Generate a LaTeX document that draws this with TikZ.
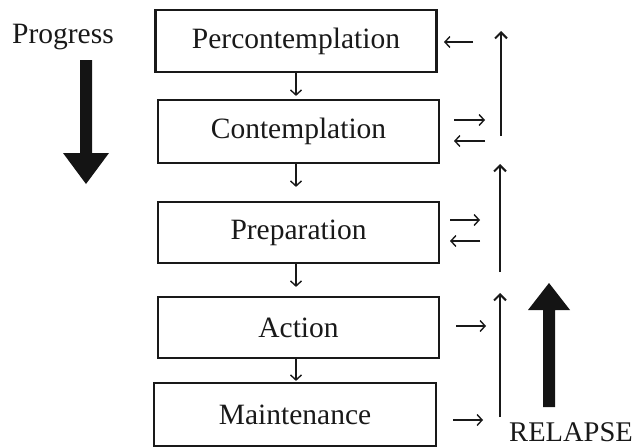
\documentclass[tikz,border=0pt]{standalone}
\usepackage{fontspec}
\setmainfont{Liberation Serif}
\usetikzlibrary{arrows.meta}
\begin{document}
\begin{tikzpicture}[x=1pt,y=-1pt,
  every node/.style={font=\fontsize{29.5}{32}\selectfont, text=black!90},
  stage/.style={draw=black!90, line width=2.2pt, minimum width=281pt, inner sep=0pt},
  thin arrow/.style={draw=black!90, line width=1.4pt, -{Straight Barb[length=5pt,width=11pt,line width=1.4pt]}},
  up arrow/.style={draw=black!90, line width=2pt, -{Straight Barb[length=6pt,width=12pt,line width=2pt]}},
  bigarrow/.style={fill=black!92, draw=none}]
\useasboundingbox (0,0) rectangle (638,447);
% stages
\node[stage, minimum height=62pt] (p) at (296,41) {Percontemplation};
\node[stage, minimum height=63pt] (c) at (298.5,131.5) {Contemplation};
\node[stage, minimum height=61pt] (r) at (298.5,232.5) {Preparation\hspace{26pt}};
\node[stage, minimum height=61pt] (a) at (298.5,327.5) {Action};
\node[stage, minimum height=63pt, minimum width=282pt] (m) at (295,414.5) {Maintenance};
% progress arrows
\coordinate (d1) at ([yshift=3pt]c.north -| p.south);
\coordinate (d2) at ([yshift=14pt]r.north -| p.south);
\coordinate (d3) at ([yshift=9pt]a.north -| p.south);
\coordinate (d4) at ([yshift=1pt]m.north -| p.south);
\draw[thin arrow] (p.south) -- (d1);
\draw[thin arrow] (c.south -| p.south) -- (d2);
\draw[thin arrow] (r.south -| p.south) -- (d3);
\draw[thin arrow] (a.south -| p.south) -- (d4);
% labels
\node (prog) at (63,37) {Progress};
\node[anchor=base, inner sep=0pt, font=\fontsize{28.5}{30}\selectfont] (rel) at (571,441) {RELAPSE};
% big arrows
\path[bigarrow] (80,60) -- (92,60) -- (92,153) -- (109,153) -- (86,184) -- (63,153) -- (80,153) -- cycle;
\coordinate (bigup) at (549,283);
\path[bigarrow] (543,407) -- (555,407) -- (555,310) -- (570,310) -- (bigup) -- (528,310) -- (543,310) -- cycle;
% side arrows
\coordinate (s1a) at (473,42);
\coordinate (s1b) at (444,42);
\draw[thin arrow] (s1a) -- (s1b);
\coordinate (s2a) at (454,120);
\coordinate (s2b) at (485,120);
\coordinate (s2c) at (485,141);
\coordinate (s2d) at (454,141);
\draw[thin arrow] (s2a) -- (s2b);
\draw[thin arrow] (s2c) -- (s2d);
\coordinate (s3a) at (450,220);
\coordinate (s3b) at (480,220);
\coordinate (s3c) at (480,241);
\coordinate (s3d) at (450,241);
\draw[thin arrow] (s3a) -- (s3b);
\draw[thin arrow] (s3c) -- (s3d);
\coordinate (s4a) at (456,326);
\coordinate (s4b) at (486,326);
\draw[thin arrow] (s4a) -- (s4b);
\coordinate (s5a) at (453,420);
\coordinate (s5b) at (483,420);
\draw[thin arrow] (s5a) -- (s5b);
% relapse up arrows
\coordinate (u1a) at (501,136);
\coordinate (u1b) at (501,31);
\draw[up arrow, line width=2.6pt] (u1a) -- (u1b);
\coordinate (u2a) at (500,272);
\coordinate (u2b) at (500,164);
\draw[up arrow] (u2a) -- (u2b);
\coordinate (u3a) at (500,417);
\coordinate (u3b) at (500,293);
\draw[up arrow] (u3a) -- (u3b);
\end{tikzpicture}
\end{document}
